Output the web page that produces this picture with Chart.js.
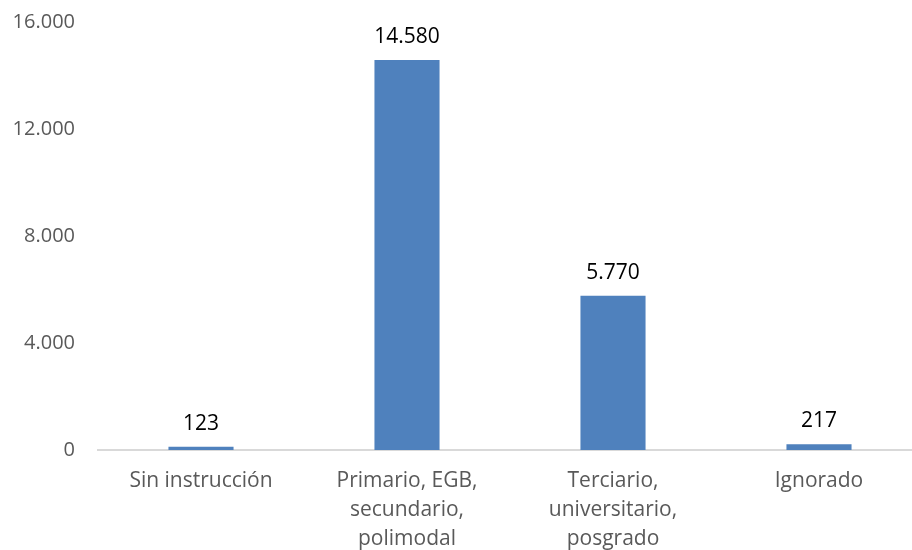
<!DOCTYPE html>
<html>
<head>
<meta charset="utf-8">
<script src="https://cdn.jsdelivr.net/npm/chart.js@4/dist/chart.umd.min.js"></script>
<style>
  html, body { margin: 0; padding: 0; background: #fff; overflow: hidden; }
  #wrap { width: 930px; height: 563px; margin-top: -13px; }
</style>
</head>
<body>
<div id="wrap"><canvas id="myChart" width="930" height="563"></canvas></div>
<script>
// Categories (multi-line labels) and values
let categories = [
    'Sin instrucción',
    ['Primario, EGB,', 'secundario,', 'polimodal'],
    ['Terciario,', 'universitario,', 'posgrado'],
    'Ignorado'
];
let values = [123, 14580, 5770, 217];

// Y axis range
let yMax = 16000;
let yStep = 4000;

let fmt = new Intl.NumberFormat('de-DE');

// Draws the value above each bar
let valueLabels = {
    id: 'valueLabels',
    afterDatasetsDraw(chart) {
        let ctx = chart.ctx;
        let meta = chart.getDatasetMeta(0);
        ctx.save();
        ctx.font = '21px "Open Sans"';
        ctx.fillStyle = '#000';
        ctx.textAlign = 'center';
        ctx.textBaseline = 'middle';
        meta.data.forEach((bar, i) => {
            ctx.fillText(fmt.format(values[i]), bar.x, bar.y - 23);
        });
        ctx.restore();
    }
};

let ctx = document.getElementById('myChart').getContext('2d');

let chart = new Chart(ctx, {
    type: 'bar',
    data: {
        labels: categories,
        datasets: [{
            data: values,
            backgroundColor: '#4f81bd',
            borderWidth: 0,
            barPercentage: 0.316,
            categoryPercentage: 1
        }]
    },
    options: {
        responsive: false,
        animation: false,
        layout: { padding: { top: 9, right: 8, left: 0, bottom: 0 } },
        plugins: {
            legend: { display: false },
            tooltip: { enabled: false }
        },
        scales: {
            x: {
                grid: { display: false, drawTicks: false },
                border: { display: true, color: '#d9d9d9', width: 2 },
                ticks: {
                    color: '#595959',
                    font: { family: 'Open Sans', size: 21, lineHeight: 1.38 },
                    padding: 17,
                    maxRotation: 0,
                    autoSkip: false
                },
                afterFit(axis) { axis.height = 100; }
            },
            y: {
                min: 0,
                max: yMax,
                grid: { display: false, drawTicks: false },
                border: { display: false },
                ticks: {
                    stepSize: yStep,
                    color: '#595959',
                    font: { family: 'Open Sans', size: 20 },
                    padding: 23,
                    callback: (v) => fmt.format(v)
                },
                afterFit(axis) { axis.width = 98; }
            }
        }
    },
    plugins: [valueLabels]
});
</script>
</body>
</html>
